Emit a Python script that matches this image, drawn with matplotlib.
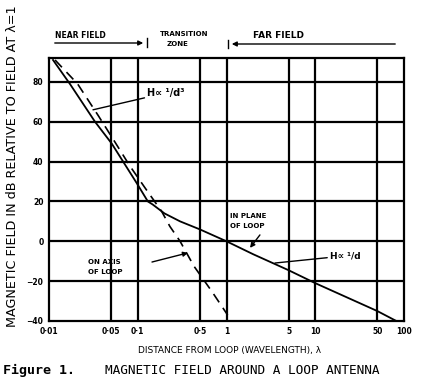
import matplotlib
matplotlib.use('Agg')
import matplotlib.pyplot as plt
from matplotlib.patches import FancyArrowPatch
from matplotlib.lines import Line2D

# distance (wavelengths) and field (dB rel. to field at 1 wavelength)
dist_plane = [0.0111, 0.0172, 0.033, 0.051, 0.098, 0.13, 0.147, 0.2, 0.3, 0.5,
              1.0, 2.0, 5.0, 10.0, 50.0, 82.0]
field_plane = [91, 79, 60, 49, 29, 20, 18.5, 14, 10, 6,
               0, -6.5, -14.5, -21, -35, -40]

dist_axis = [0.0117, 0.021, 0.036, 0.055, 0.081, 0.12, 0.186, 0.23, 0.3, 0.43,
             0.68, 1.03]
field_axis = [91, 79, 63, 50, 38, 27, 15, 7.5, 0, -12.5, -25, -37]

xticks = [0.01, 0.05, 0.1, 0.5, 1, 5, 10, 50, 100]
xtick_labels = ['0·01', '0·05', '0·1', '0·5', '1', '5', '10', '50', '100']
yticks = [-40, -20, 0, 20, 40, 60, 80]

W, H = 432, 388


def fp(x, y):
    # figure pixel (from top-left) -> figure fraction
    return x / W, 1 - y / H


fig = plt.figure(figsize=(W / 100, H / 100), dpi=100)
ax = fig.add_axes([49 / W, 1 - 321 / H, 355 / W, 263 / H])

ax.plot(dist_plane, field_plane, color='black', lw=1.3)
ax.plot(dist_axis, field_axis, color='black', lw=1.2, dashes=(6, 4))

ax.set_xscale('log')
ax.set_xlim(0.01, 100)
ax.set_ylim(-40, 92)
ax.set_xticks(xticks)
ax.set_xticklabels(xtick_labels)
ax.set_xticks([], minor=True)
ax.set_yticks(yticks)
ax.tick_params(length=0, labelsize=5.5, pad=4)
for lab in ax.get_xticklabels() + ax.get_yticklabels():
    lab.set_fontweight('bold')
for s in ax.spines.values():
    s.set_linewidth(1.6)
for x in xticks[1:-1]:
    ax.axvline(x, color='black', lw=1.6)
for y in yticks[1:]:
    ax.axhline(y, color='black', lw=1.6)

# curve annotations
ax.annotate('H∝ ¹/d³', xy=(0.0313, 66), xytext=(0.128, 74.5), fontsize=7,
            fontweight='bold', va='center', ha='left',
            arrowprops=dict(arrowstyle='-', lw=1.0, color='black',
                            shrinkA=0, shrinkB=0))
ax.annotate('ON AXIS\nOF LOOP', xy=(0.0275, -13), fontsize=5, fontweight='bold',
            va='center', ha='left', linespacing=1.8)
ax.annotate('', xy=(0.368, -5.8), xytext=(0.1447, -10.4),
            arrowprops=dict(arrowstyle='-|>', lw=1.0, color='black',
                            mutation_scale=7, shrinkA=0, shrinkB=0))
ax.text(1.094, 10.2, 'IN PLANE\nOF LOOP', fontsize=5, fontweight='bold',
        va='center', ha='left', linespacing=1.8)
ax.annotate('', xy=(1.84, -3.3), xytext=(2.38, 3.2),
            arrowprops=dict(arrowstyle='-|>', lw=1.0, color='black',
                            mutation_scale=7, shrinkA=0, shrinkB=0))
ax.annotate('H∝ ¹/d', xy=(3.52, -10.9), xytext=(14.66, -7.3), fontsize=6.5,
            fontweight='bold', va='center', ha='left',
            arrowprops=dict(arrowstyle='-', lw=1.0, color='black',
                            shrinkA=0, shrinkB=0))

# zone labels above the plot
fig.text(*fp(55, 35), 'NEAR FIELD', fontsize=5.5, fontweight='bold',
         va='center', ha='left')
fig.add_artist(FancyArrowPatch(fp(52, 43), fp(146, 43), transform=fig.transFigure,
                               arrowstyle='-|>', mutation_scale=7, lw=1.0,
                               color='black'))
fig.add_artist(Line2D([147 / W, 147 / W], [1 - 38 / H, 1 - 47 / H],
                      transform=fig.transFigure, color='black', lw=1.0))
fig.text(*fp(184, 34), 'TRANSITION', fontsize=5, fontweight='bold',
         va='center', ha='center')
fig.text(*fp(178, 44), 'ZONE', fontsize=5, fontweight='bold',
         va='center', ha='center')
fig.add_artist(Line2D([228 / W, 228 / W], [1 - 40 / H, 1 - 48 / H],
                      transform=fig.transFigure, color='black', lw=1.0))
fig.add_artist(FancyArrowPatch(fp(398, 44), fp(229, 44), transform=fig.transFigure,
                               arrowstyle='-|>', mutation_scale=7, lw=1.0,
                               color='black'))
fig.text(*fp(253, 35), 'FAR FIELD', fontsize=6.5, fontweight='bold',
         va='center', ha='left')

# axis titles and caption
fig.text(*fp(13, 166), 'MAGNETIC FIELD IN dB RELATIVE TO FIELD AT λ=1',
         rotation=90, fontsize=9.2, va='center', ha='center')
fig.text(*fp(230, 350), 'DISTANCE FROM LOOP (WAVELENGTH), λ', fontsize=6.5,
         va='center', ha='center')
fig.text(*fp(3, 370), 'Figure 1.', family='DejaVu Sans Mono', fontweight='bold',
         fontsize=9.6, va='center', ha='left')
fig.text(*fp(105, 370), 'MAGNETIC FIELD AROUND A LOOP ANTENNA',
         family='DejaVu Sans Mono', fontsize=9.2, va='center', ha='left')

fig.savefig('out.png', dpi=100)
